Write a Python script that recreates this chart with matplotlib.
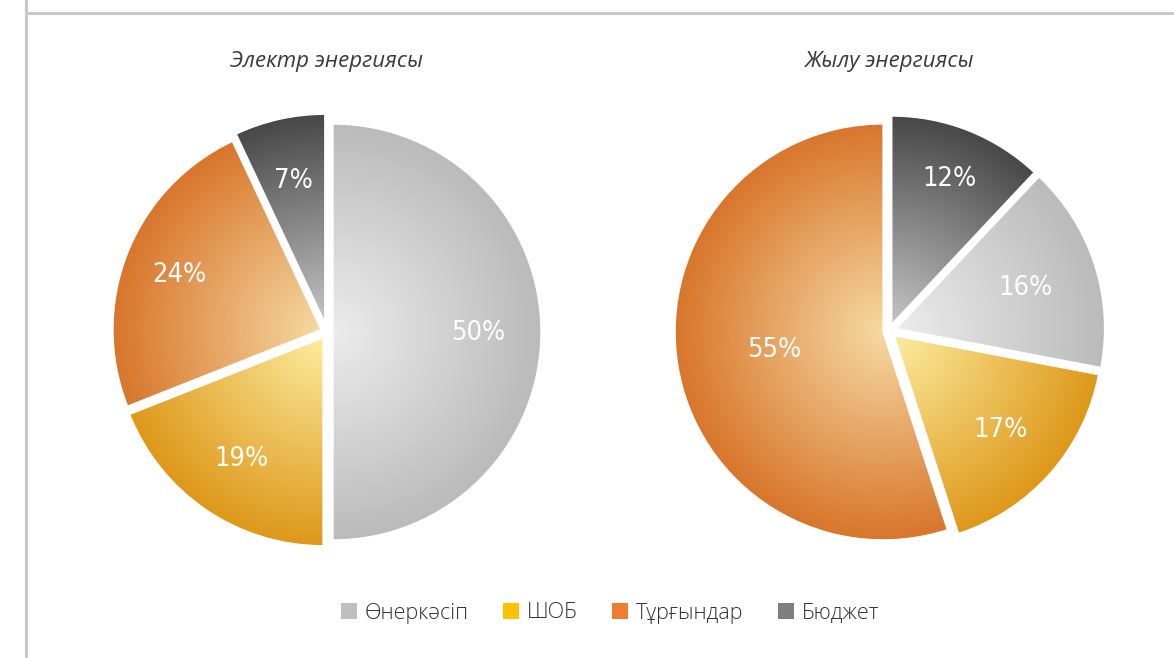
import numpy as np
import matplotlib
matplotlib.use("Agg")
import matplotlib.pyplot as plt
from matplotlib.colors import LinearSegmentedColormap
from matplotlib.patches import Patch
from matplotlib.lines import Line2D
from matplotlib import font_manager

# Legend categories and flat colours
categories = ["Өнеркәсіп", "ШОБ", "Тұрғындар", "Бюджет"]
legend_colors = ["#bfbfbf", "#ffc000", "#ed7d31", "#7f7f7f"]

# Left pie: electricity
elec_title = "Электр энергиясы"
elec_labels = ["Өнеркәсіп", "ШОБ", "Тұрғындар", "Бюджет"]
elec_values = [50, 19, 24, 7]

# Right pie: heat
heat_title = "Жылу энергиясы"
heat_labels = ["Бюджет", "Өнеркәсіп", "ШОБ", "Тұрғындар"]
heat_values = [12, 16, 17, 55]

# radial gradient: (centre colour, rim colour)
grad = {
    "Өнеркәсіп": ("#ececec", "#bbbbbb"),
    "ШОБ": ("#fcec9f", "#de981a"),
    "Тұрғындар": ("#f6d9a2", "#d8762c"),
    "Бюджет": ("#c4c4c4", "#484848"),
}

W, H = 1174, 658
fig = plt.figure(figsize=(W / 100, H / 100), dpi=100)
ax = fig.add_axes([0, 0, 1, 1])

TXT_FONT = ["Open Sans", "DejaVu Sans"]
names = {f.name for f in font_manager.fontManager.ttflist}
PCT_FONT = [n for n in ["Liberation Sans Narrow", "DejaVu Sans"] if n in names]


def gradient_pie(values, labels, center, radius, explode, label_dist):
    wedges, _ = ax.pie(values, startangle=90, counterclock=False,
                       center=center, radius=radius,
                       explode=explode, frame=True)
    for w, lab, v, d in zip(wedges, labels, values, label_dist):
        c0, c1 = grad[lab]
        cmap = LinearSegmentedColormap.from_list(lab, [c0, c1])
        cx, cy = w.center
        r = w.r
        xs = np.linspace(cx - r, cx + r, 300)
        ys = np.linspace(cy - r, cy + r, 300)
        X, Y = np.meshgrid(xs, ys)
        dist = np.clip(np.hypot(X - cx, Y - cy) / r, 0, 1)
        im = ax.imshow(dist, extent=(cx - r, cx + r, cy - r, cy + r),
                       origin="lower", cmap=cmap, vmin=0, vmax=1,
                       interpolation="bilinear", zorder=1)
        im.set_clip_path(w)
        w.set_facecolor("none")
        w.set_edgecolor("white")
        w.set_linewidth(1)
        w.set_zorder(2)
        mid = np.deg2rad((w.theta1 + w.theta2) / 2)
        ax.text(cx + d * r * np.cos(mid), cy + d * r * np.sin(mid) - 1, f"{v}%",
                ha="center", va="center", color="white", fontsize=19.5,
                family=PCT_FONT, fontstretch="condensed", zorder=3)


# explode is in data units (pixels) here
gradient_pie(elec_values, elec_labels, (327, H - 332), 208,
             [6, 7, 6.5, 10], [0.70, 0.70, 0.73, 0.70])
gradient_pie(heat_values, heat_labels, (889, H - 331), 208,
             [7.5, 8, 7, 6], [0.755, 0.65, 0.68, 0.53])

ax.text(327, H - 62, elec_title, ha="center", va="center", fontsize=16,
        style="italic", color="#3a3a3a", family=TXT_FONT)
ax.text(889, H - 62, heat_title, ha="center", va="center", fontsize=16,
        style="italic", color="#3a3a3a", family=TXT_FONT)

ax.set_xlim(0, W)
ax.set_ylim(0, H)
ax.set_aspect("auto")
ax.axis("off")

# frame lines at top and left
fig.add_artist(Line2D([26 / W, 1], [1 - 13 / H, 1 - 13 / H], transform=fig.transFigure,
                      color="#c9c9c9", lw=2.2))
fig.add_artist(Line2D([26 / W, 26 / W], [0, 1], transform=fig.transFigure,
                      color="#c9c9c9", lw=2.2))

handles = [Patch(facecolor=c, edgecolor="none") for c in legend_colors]
fig.legend(handles, categories, loc="center", bbox_to_anchor=(610 / W, 1 - 613 / H),
           ncol=4, frameon=False, handlelength=0.75, handleheight=0.75,
           handletextpad=0.35, columnspacing=1.6,
           prop={"family": TXT_FONT, "size": 15.5, "weight": 300}, labelcolor="#333333")

fig.savefig("out.png", dpi=100)
